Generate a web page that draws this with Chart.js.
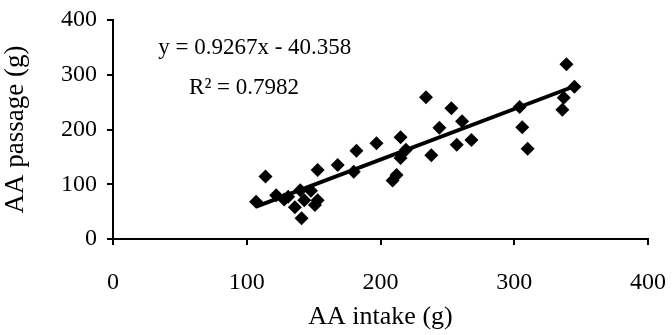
<!DOCTYPE html>
<html>
<head>
<meta charset="utf-8">
<script src="https://cdn.jsdelivr.net/npm/chart.js@4.4.1/dist/chart.umd.min.js"></script>
<style>
  html, body { margin: 0; padding: 0; background: #fff; }
  #wrap { width: 672px; height: 335px; }
</style>
</head>
<body>
<div id="wrap"><canvas id="c"></canvas></div>
<script>
// AA intake vs AA passage
const intake = [107, 114, 122, 128, 131, 136, 140, 141, 143, 148, 151, 153, 153, 168, 180, 182,
  197, 209, 212, 215, 215, 219, 234, 238, 244, 253, 257, 261, 268, 304, 306, 310, 336, 337, 339, 345];
const passage = [68, 114, 80, 72, 77, 58, 89, 38, 71, 88, 62, 71, 126, 135, 123, 161,
  175, 107, 117, 186, 148, 163, 259, 153, 203, 239, 172, 215, 181, 241, 204, 165, 236, 258, 319, 278];

// trend line ends (y = 0.9267x - 40.358)
const trendX = [107, 345];
const trendY = [59, 279];

const eqText = "y = 0.9267x - 40.358";
const r2Text = "R² = 0.7982";
const eqAnchor = [106, 349];   // data coords of text centres
const r2Anchor = [98, 276];

const SERIF = "'Liberation Serif', 'DejaVu Serif', serif";

const labelsPlugin = {
  id: "eqLabels",
  afterDatasetsDraw(chart) {
    const { ctx, scales } = chart;
    ctx.save();
    ctx.fillStyle = "#000";
    ctx.font = "23px " + SERIF;
    ctx.textAlign = "center";
    ctx.textBaseline = "middle";
    ctx.fillText(eqText, scales.x.getPixelForValue(eqAnchor[0]), scales.y.getPixelForValue(eqAnchor[1]));
    ctx.fillText(r2Text, scales.x.getPixelForValue(r2Anchor[0]), scales.y.getPixelForValue(r2Anchor[1]));
    ctx.restore();
  },
};

const pts = intake.map((x, i) => ({ x, y: passage[i] }));
const trend = trendX.map((x, i) => ({ x, y: trendY[i] }));

new Chart(document.getElementById("c"), {
  type: "scatter",
  data: {
    datasets: [
      {
        data: trend,
        type: "line",
        borderColor: "#000",
        borderWidth: 4,
        pointRadius: 0,
        showLine: true,
        order: 2,
      },
      {
        data: pts,
        pointStyle: "rectRot",
        pointRadius: 7,
        backgroundColor: "#000",
        borderColor: "#000",
        borderWidth: 0,
        order: 1,
      },
    ],
  },
  options: {
    responsive: true,
    maintainAspectRatio: false,
    animation: false,
    layout: { padding: { top: 20, right: 24, left: 0, bottom: 0 } },
    plugins: { legend: { display: false }, tooltip: { enabled: false } },
    scales: {
      x: {
        type: "linear",
        min: 0, max: 400,
        ticks: { stepSize: 100, color: "#000", padding: 23, font: { family: SERIF, size: 24 } },
        grid: { drawOnChartArea: false, drawTicks: true, tickLength: 6, color: "#000", lineWidth: 2 },
        border: { display: true, color: "#000", width: 2 },
        title: { display: true, text: "AA intake (g)", color: "#000", padding: { top: 0, bottom: 2 }, font: { family: SERIF, size: 26 } },
        afterFit: (s) => { s.height = 96; s.paddingLeft = 0; s.paddingRight = 0; },
      },
      y: {
        type: "linear",
        min: 0, max: 400,
        ticks: { stepSize: 100, color: "#000", padding: 10, font: { family: SERIF, size: 24 } },
        grid: { drawOnChartArea: false, drawTicks: true, tickLength: 6, color: "#000", lineWidth: 2 },
        border: { display: true, color: "#000", width: 2 },
        title: { display: true, text: "AA passage (g)", color: "#000", padding: { top: 0, bottom: 0 }, font: { family: SERIF, size: 27 } },
        afterFit: (s) => { s.width = 113; s.paddingTop = 0; s.paddingBottom = 0; },
      },
    },
  },
  plugins: [labelsPlugin],
});
</script>
</body>
</html>
